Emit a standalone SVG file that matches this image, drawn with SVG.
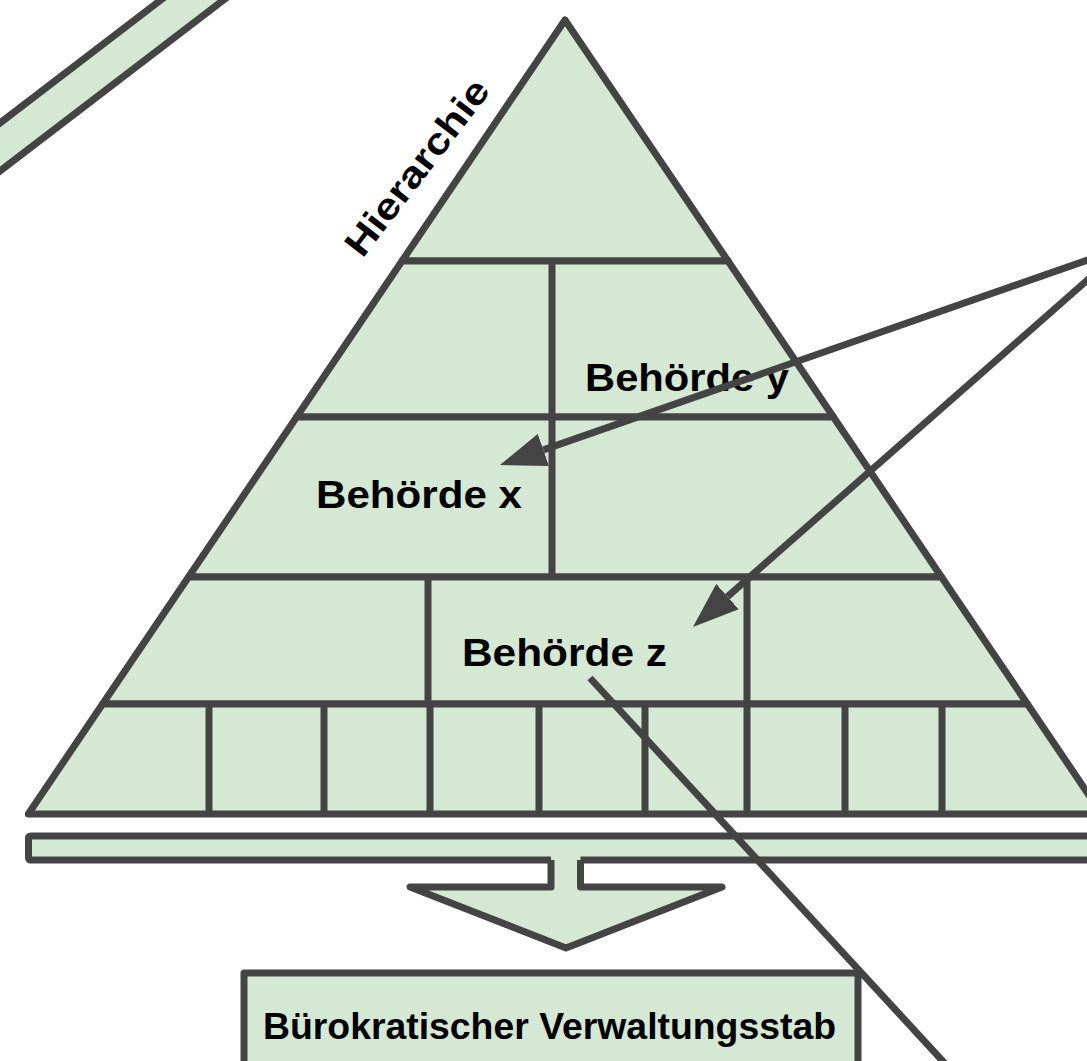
<svg xmlns="http://www.w3.org/2000/svg" width="1087" height="1061" viewBox="0 0 1087 1061">
  <style>
    .shape { fill: #d5e8d4; stroke: #444444; stroke-width: 7; stroke-linejoin: round; }
    .ln { fill: none; stroke: #444444; stroke-width: 7; stroke-linecap: butt; stroke-linejoin: round; }
    .fillonly { fill: #d5e8d4; stroke: none; }
    .lbl { font-family: "Liberation Sans", Arial, sans-serif; font-weight: bold; fill: #000000; }
    .conn { fill: none; stroke: #444444; stroke-width: 7; }
  </style>
  <defs>
    <marker id="head" viewBox="0 -17 46 34" refX="0" refY="0" markerWidth="46" markerHeight="34" markerUnits="userSpaceOnUse" orient="auto">
      <path d="M0,-17 L46,0 L0,17 Z" fill="#444444"/>
    </marker>
  </defs>
  <rect width="1087" height="1061" fill="#ffffff"/>

  <g id="band-topleft">
    <polygon class="fillonly" points="-20,138.3 180,-14.7 250,-20.25 -20,186.3"/>
    <line class="ln" x1="-20" y1="138.3" x2="180" y2="-14.7"/>
    <line class="ln" x1="-20" y1="186.3" x2="250" y2="-20.25"/>
  </g>

  <g id="pyramid-top">
    <polygon class="shape" points="565,20 728,261 402,261"/>
  </g>
  <g id="pyramid-row2">
    <polygon class="shape" points="402,261 728,261 833.4,417 296.6,417"/>
  </g>
  <g id="pyramid-row3">
    <polygon class="shape" points="296.6,417 833.4,417 941.5,577 188.5,577"/>
    <line class="ln" x1="552" y1="261" x2="552" y2="577"/>
  </g>
  <g id="pyramid-row4">
    <polygon class="shape" points="188.5,577 941.5,577 1027.4,704 102.6,704"/>
    <line class="ln" x1="428" y1="577" x2="428" y2="704"/>
    <line class="ln" x1="747" y1="577" x2="747" y2="704"/>
  </g>
  <g id="pyramid-row5">
    <polygon class="shape" points="102.6,704 1027.4,704 1101.7,814 28.3,814"/>
    <line class="ln" x1="209" y1="704" x2="209" y2="814"/>
    <line class="ln" x1="324" y1="704" x2="324" y2="814"/>
    <line class="ln" x1="430" y1="704" x2="430" y2="814"/>
    <line class="ln" x1="539" y1="704" x2="539" y2="814"/>
    <line class="ln" x1="645" y1="704" x2="645" y2="814"/>
    <line class="ln" x1="747" y1="704" x2="747" y2="814"/>
    <line class="ln" x1="845" y1="704" x2="845" y2="814"/>
    <line class="ln" x1="942" y1="704" x2="942" y2="814"/>
  </g>

  <g id="label-hierarchie">
    <text class="lbl" x="0" y="0" font-size="37" text-anchor="middle" textLength="212" lengthAdjust="spacingAndGlyphs" transform="translate(427,175) rotate(-52.5)">Hierarchie</text>
  </g>

  <g id="behoerde-y">
    <text class="lbl" x="687" y="391" font-size="38" text-anchor="middle" textLength="204" lengthAdjust="spacingAndGlyphs">Behörde y</text>
  </g>
  <g id="behoerde-x">
    <text class="lbl" x="419" y="508" font-size="38" text-anchor="middle" textLength="206" lengthAdjust="spacingAndGlyphs">Behörde x</text>
  </g>
  <g id="behoerde-z">
    <text class="lbl" x="564.5" y="666" font-size="38" text-anchor="middle" textLength="205" lengthAdjust="spacingAndGlyphs">Behörde z</text>
  </g>

  <g id="base-bar">
    <rect class="shape" x="28.5" y="836" width="1100" height="24" rx="2"/>
  </g>

  <g id="down-arrow">
    <polygon class="fillonly" points="551,855 551,887 410,887 566,948 722,887 580.5,887 580.5,855"/>
    <path class="ln" d="M551,860 L551,887 L410,887 L566,948 L722,887 L580.5,887 L580.5,860"/>
  </g>

  <g id="verwaltungsstab">
    <rect class="shape" x="244" y="973" width="614" height="120"/>
    <text class="lbl" x="549.5" y="1039" font-size="36" text-anchor="middle" textLength="573" lengthAdjust="spacingAndGlyphs">Bürokratischer Verwaltungsstab</text>
  </g>

  <g id="connectors">
    <line class="conn" x1="1125" y1="247" x2="543.4" y2="449.9" marker-end="url(#head)"/>
    <line class="conn" x1="1125" y1="247" x2="727.5" y2="596.6" marker-end="url(#head)"/>
    <line class="conn" x1="590" y1="678" x2="950" y2="1069"/>
  </g>
</svg>
